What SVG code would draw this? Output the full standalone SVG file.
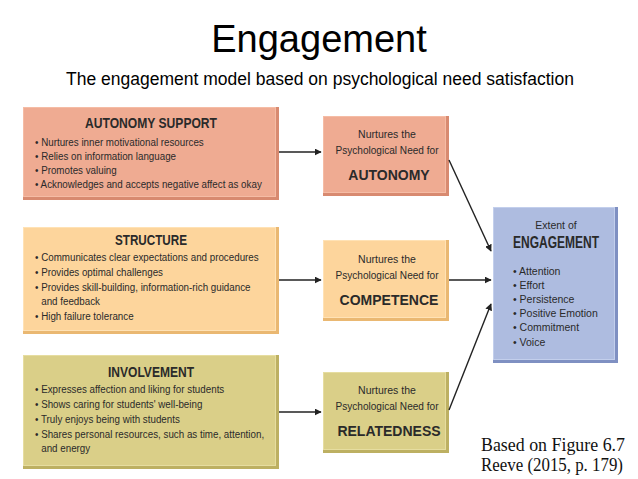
<svg xmlns="http://www.w3.org/2000/svg" width="638" height="479" viewBox="0 0 638 479">
<defs>
<style>
.t{font-family:"Liberation Sans",Arial,sans-serif;fill:#000}
.n{font-family:"Liberation Sans",Arial,sans-serif;fill:#2a2a2a}
.h{font-size:15px;font-weight:bold;text-anchor:middle}
.b{font-size:11px}
.m{font-size:10.5px;text-anchor:middle}
.k{font-size:14px;font-weight:bold;text-anchor:middle}
.s{font-family:"Liberation Serif","DejaVu Serif",serif;font-size:18px;fill:#111}
.c{stroke:#222;stroke-width:1.4;fill:none;marker-end:url(#ah)}
.au{fill:#EFAB92;stroke:#F5BCA5;stroke-width:1}
.aus{fill:#D88A70}
.st{fill:#FDD59C;stroke:#FFE2B5;stroke-width:1}
.sts{fill:#EAB872}
.iv{fill:#DACF88;stroke:#E6DDA0;stroke-width:1}
.ivs{fill:#BDB062}
.en{fill:#AEBCE0;stroke:#C3CFEC;stroke-width:1}
.ens{fill:#7F90C2}
</style>
<marker id="ah" viewBox="0 0 10 10" refX="9" refY="5" markerWidth="7" markerHeight="7" orient="auto" markerUnits="userSpaceOnUse"><path d="M0,0 L10,5 L0,10 z" fill="#222"/></marker>
</defs>
<rect width="638" height="479" fill="#fff"/>
<text class="t" x="319" y="52" font-size="38" text-anchor="middle">Engagement</text>
<text class="t" x="320" y="85" font-size="17.5" text-anchor="middle">The engagement model based on psychological need satisfaction</text>

<g id="autonomy-support">
<rect class="aus" x="23" y="107" width="256" height="93"/>
<rect class="au" x="23.5" y="107.5" width="252" height="89"/>
<text class="n h" x="151" y="128" textLength="132" lengthAdjust="spacingAndGlyphs">AUTONOMY SUPPORT</text>
<g transform="translate(35,0) scale(0.89,1)">
<text class="n b" x="0" y="146">• Nurtures inner motivational resources</text>
<text class="n b" x="0" y="160">• Relies on information language</text>
<text class="n b" x="0" y="174">• Promotes valuing</text>
<text class="n b" x="0" y="188">• Acknowledges and accepts negative affect as okay</text>
</g>
</g>
<g id="structure">
<rect class="sts" x="23" y="227" width="256" height="107"/>
<rect class="st" x="23.5" y="227.5" width="252" height="103"/>
<text class="n h" x="151" y="245" textLength="72" lengthAdjust="spacingAndGlyphs">STRUCTURE</text>
<g transform="translate(35,0) scale(0.89,1)">
<text class="n b" x="0" y="261">• Communicates clear expectations and procedures</text>
<text class="n b" x="0" y="276">• Provides optimal challenges</text>
<text class="n b" x="0" y="291">• Provides skill-building, information-rich guidance</text>
<text class="n b" x="7" y="305">and feedback</text>
<text class="n b" x="0" y="320">• High failure tolerance</text>
</g>
</g>
<g id="involvement">
<rect class="ivs" x="23" y="355" width="256" height="114"/>
<rect class="iv" x="23.5" y="355.5" width="252" height="110"/>
<text class="n h" x="151" y="377" textLength="86" lengthAdjust="spacingAndGlyphs">INVOLVEMENT</text>
<g transform="translate(35,0) scale(0.89,1)">
<text class="n b" x="0" y="393">• Expresses affection and liking for students</text>
<text class="n b" x="0" y="408">• Shows caring for students' well-being</text>
<text class="n b" x="0" y="423">• Truly enjoys being with students</text>
<text class="n b" x="0" y="438">• Shares personal resources, such as time, attention,</text>
<text class="n b" x="7" y="452">and energy</text>
</g>
</g>

<g id="need-autonomy">
<rect class="aus" x="323" y="116" width="126" height="80"/>
<rect class="au" x="323.5" y="116.5" width="122" height="76"/>
<text class="n m" x="387" y="138">Nurtures the</text>
<text class="n m" x="387" y="154" textLength="103" lengthAdjust="spacingAndGlyphs">Psychological Need for</text>
<text class="n k" x="389" y="180">AUTONOMY</text>
</g>
<g id="need-competence">
<rect class="sts" x="323" y="240" width="126" height="81"/>
<rect class="st" x="323.5" y="240.5" width="122" height="77"/>
<text class="n m" x="387" y="263">Nurtures the</text>
<text class="n m" x="387" y="279" textLength="103" lengthAdjust="spacingAndGlyphs">Psychological Need for</text>
<text class="n k" x="389" y="305">COMPETENCE</text>
</g>
<g id="need-relatedness">
<rect class="ivs" x="323" y="372" width="126" height="81"/>
<rect class="iv" x="323.5" y="372.5" width="122" height="77"/>
<text class="n m" x="387" y="394">Nurtures the</text>
<text class="n m" x="387" y="410" textLength="103" lengthAdjust="spacingAndGlyphs">Psychological Need for</text>
<text class="n k" x="389" y="436">RELATEDNESS</text>
</g>

<g id="engagement">
<rect class="ens" x="493" y="207" width="125" height="156"/>
<rect class="en" x="493.5" y="207.5" width="121" height="152"/>
<text class="n m" x="556" y="229">Extent of</text>
<text class="n" x="556" y="248" font-size="16" font-weight="bold" text-anchor="middle" textLength="86" lengthAdjust="spacingAndGlyphs">ENGAGEMENT</text>
<text class="n" x="513" y="275" font-size="10.5">• Attention</text>
<text class="n" x="513" y="289" font-size="10.5">• Effort</text>
<text class="n" x="513" y="303" font-size="10.5">• Persistence</text>
<text class="n" x="513" y="317" font-size="10.5">• Positive Emotion</text>
<text class="n" x="513" y="331" font-size="10.5">• Commitment</text>
<text class="n" x="513" y="346" font-size="10.5">• Voice</text>
</g>

<g id="connectors">
<line class="c" x1="279" y1="152" x2="321" y2="152"/>
<line class="c" x1="279" y1="280" x2="321" y2="280"/>
<line class="c" x1="279" y1="412" x2="321" y2="412"/>
<line class="c" x1="449" y1="160" x2="491" y2="251"/>
<line class="c" x1="449" y1="280" x2="491" y2="280"/>
<line class="c" x1="449" y1="410" x2="491" y2="304"/>
</g>

<text class="s" x="481" y="451" textLength="144" lengthAdjust="spacingAndGlyphs">Based on Figure 6.7</text>
<text class="s" x="481" y="471" textLength="142" lengthAdjust="spacingAndGlyphs">Reeve (2015, p. 179)</text>
</svg>
